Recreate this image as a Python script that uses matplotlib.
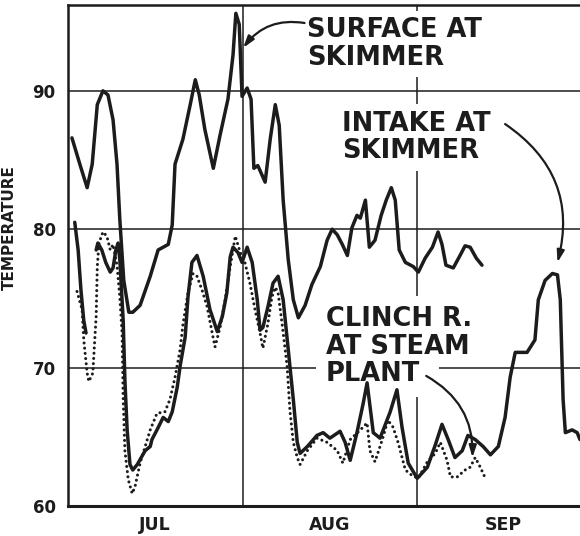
import numpy as np
import matplotlib
matplotlib.use("Agg")
import matplotlib.pyplot as plt

# Water temperature, summer record. Day 0 = July 1.

# surface at skimmer (upper solid trace)
surface_day = [0.7, 2.1, 3.4, 4.3, 5.2, 6.2, 7.1, 8.0, 8.7, 9.2, 9.9, 10.8, 11.5,
               12.8, 14.6, 16.0, 16.9, 17.8, 18.5, 19.0, 20.4, 21.7, 22.6, 23.3,
               24.3, 25.8, 27.0, 28.4, 29.3, 29.8, 30.4, 30.9, 31.8, 32.5, 33.0,
               33.7, 35.0, 35.9, 36.8, 37.5, 38.2, 39.1, 40.0, 40.9, 42.1, 43.3,
               44.8, 46.0, 46.9, 47.8, 48.7, 49.6, 50.4, 51.3, 51.9, 52.8, 53.5,
               54.5, 55.6, 56.5, 57.4, 58.1, 58.8, 59.9, 61.3, 62.2, 63.4, 64.7,
               65.7, 66.4, 67.1, 68.4, 69.6, 70.5, 71.4, 72.5, 73.5]
surface_temp = [86.6, 84.7, 83.0, 84.7, 89.0, 90.0, 89.7, 87.9, 84.7, 80.7, 76.3,
                74.0, 74.0, 74.5, 76.6, 78.5, 78.7, 78.9, 80.3, 84.7, 86.5, 89.0,
                90.8, 89.7, 87.2, 84.4, 86.8, 89.4, 92.6, 95.6, 94.8, 89.6, 90.2,
                89.4, 84.4, 84.6, 83.4, 86.5, 89.0, 87.5, 82.1, 77.8, 74.9, 73.6,
                74.5, 76.0, 77.3, 79.2, 80.0, 79.6, 78.9, 78.1, 80.1, 81.0, 80.8,
                82.1, 78.7, 79.2, 81.0, 82.1, 83.0, 82.1, 78.5, 77.6, 77.3, 76.9,
                77.9, 78.7, 79.8, 78.9, 77.4, 77.2, 78.1, 78.8, 78.7, 77.9, 77.4]

# intake at skimmer (lower solid trace, a short break early in July)
intake_day = [1.2, 1.8, 2.3, 2.8, 3.2, 4.0, 5.0, 5.3, 6.0, 6.7, 7.5, 8.0, 8.5, 8.9,
              9.2, 9.8, 10.1, 10.5, 11.0, 11.5, 12.3, 13.0, 13.7, 14.6, 14.9, 15.8,
              16.9, 17.8, 18.5, 19.4, 19.9, 20.8, 21.3, 22.0, 22.9, 24.0, 25.2,
              26.5, 27.4, 28.2, 28.8, 29.3, 30.2, 30.9, 31.8, 32.7, 33.6, 34.1,
              34.6, 35.5, 36.4, 37.3, 38.2, 39.1, 40.0, 40.7, 41.2, 42.5, 44.2,
              45.3, 46.5, 48.3, 49.2, 50.1, 51.3, 52.4, 53.1, 54.2, 55.4, 57.2,
              58.4, 59.3, 60.4, 62.0, 63.8, 65.2, 66.4, 67.5, 68.7, 70.0, 71.0,
              72.3, 73.7, 75.0, 76.4, 77.6, 78.5, 79.4, 81.5, 82.9, 83.5, 84.7,
              86.0, 86.9, 87.4, 87.9, 88.3, 89.5, 90.4, 90.9]
intake_temp = [80.5, 78.5, 75.6, 73.4, 72.5, np.nan, 78.5, 79.0, 78.5, 77.6, 76.9,
               77.2, 78.5, 79.0, 77.8, 73.4, 69.1, 65.5, 63.0, 62.6, 63.0, 63.5,
               64.0, 64.3, 64.8, 65.5, 66.4, 66.1, 66.8, 68.6, 70.1, 72.2, 75.1,
               77.6, 78.1, 76.6, 74.2, 72.6, 73.7, 75.4, 78.0, 78.7, 78.3, 77.6,
               78.7, 77.6, 74.9, 72.7, 72.9, 74.4, 76.1, 76.6, 74.9, 71.3, 67.7,
               64.6, 63.8, 64.3, 65.1, 65.3, 64.9, 65.4, 64.6, 63.3, 65.3, 67.4,
               68.9, 65.3, 64.9, 66.8, 68.4, 65.7, 63.1, 62.0, 62.8, 64.4, 65.9,
               64.8, 63.5, 64.0, 65.1, 64.8, 64.3, 63.7, 64.3, 66.4, 69.3, 71.1,
               71.1, 72.0, 74.9, 76.3, 76.8, 76.7, 74.9, 67.7, 65.3, 65.5, 65.3,
               64.8]

# Clinch R. at steam plant (dotted trace)
clinch_day = [1.6, 2.5, 2.8, 3.4, 3.7, 4.4, 5.0, 5.2, 5.5, 6.2, 6.9, 7.5, 8.0, 8.7,
              9.2, 9.6, 9.8, 10.1, 10.7, 11.4, 11.9, 12.8, 13.7, 14.6, 15.8, 17.2,
              18.1, 19.0, 19.9, 20.4, 21.3, 22.2, 22.9, 23.8, 24.7, 25.6, 26.1,
              27.0, 27.9, 28.8, 29.7, 30.6, 31.4, 32.3, 33.2, 34.1, 34.6, 35.5,
              36.2, 36.8, 37.3, 38.0, 38.9, 39.4, 40.0, 40.7, 41.2, 42.5, 44.2,
              46.0, 47.8, 48.8, 50.1, 51.9, 53.1, 53.6, 54.5, 55.8, 56.8, 57.7,
              58.6, 59.9, 61.1, 62.2, 63.8, 65.2, 66.1, 67.3, 67.9, 69.1, 70.5,
              71.4, 72.3, 73.2, 74.1]
clinch_temp = [75.5, 74.2, 72.0, 69.6, 69.0, 69.6, 73.7, 77.3, 79.0, 79.8, 79.5,
               78.5, 78.9, 77.4, 75.1, 72.5, 67.7, 64.0, 61.9, 60.9, 61.4, 63.1,
               64.3, 65.5, 66.7, 66.8, 67.7, 69.3, 71.3, 73.1, 75.4, 76.8, 76.6,
               75.6, 74.4, 72.5, 71.5, 72.9, 74.9, 77.3, 79.5, 78.3, 77.6, 76.1,
               74.2, 72.5, 71.4, 73.2, 75.1, 75.8, 75.4, 73.2, 70.1, 66.9, 64.6,
               63.5, 63.0, 64.0, 64.9, 64.6, 64.0, 63.1, 64.8, 65.5, 66.0, 64.0,
               63.2, 64.8, 66.2, 65.7, 64.6, 62.6, 62.2, 62.0, 63.2, 63.8, 64.6,
               63.3, 62.1, 62.1, 62.6, 62.8, 63.5, 62.8, 62.0]

month_edges = [31, 62]
month_mid = [15.5, 46.5, 77.3]
month_labels = ["JUL", "AUG", "SEP"]
temp_ticks = [60, 70, 80, 90]

ink = "#1c1c1c"

fig = plt.figure(figsize=(5.8, 5.36), dpi=100)
ax = fig.add_axes([68/580, 30/536, 512/580, 501/536])
ax.set_axisbelow(True)

ax.plot(surface_day, surface_temp, color=ink, lw=2.5,
        solid_joinstyle="round", solid_capstyle="round", zorder=2)
ax.plot(intake_day, intake_temp, color=ink, lw=2.5,
        solid_joinstyle="round", solid_capstyle="round", zorder=2)
ax.plot(clinch_day, clinch_temp, color=ink, lw=2.2,
        linestyle=(0, (0.01, 1.7)), dash_capstyle="round", zorder=2)

ax.set_xlim(0, 90.9)
ax.set_ylim(60, 96.2)

ax.set_yticks(temp_ticks)
ax.set_xticks(month_mid, month_labels)
ax.set_xticks(month_edges, minor=True)
ax.grid(axis="y", color=ink, lw=1.1)
ax.grid(axis="x", which="minor", color=ink, lw=1.1)
ax.tick_params(which="both", length=0)
ax.tick_params(axis="y", pad=9, labelsize=12)
ax.tick_params(axis="x", pad=7, labelsize=12.5)
for lab in ax.get_xticklabels() + ax.get_yticklabels():
    lab.set_fontweight("bold")
    lab.set_color(ink)

ax.spines["right"].set_visible(False)
ax.spines["left"].set_linewidth(1.8)
ax.spines["top"].set_linewidth(1.8)
ax.spines["bottom"].set_linewidth(2.2)
for s in ax.spines.values():
    s.set_color(ink)

ax.set_ylabel("TEMPERATURE", fontsize=11, fontweight="bold", color=ink)
ax.yaxis.set_label_coords(-0.1, 0.555)

# labels, a white box breaks the grid lines behind them
box = dict(facecolor="white", edgecolor="none", boxstyle="square,pad=0.25")
txt = dict(fontsize=18.5, fontweight="bold", color=ink, ha="left", va="top",
           linespacing=1.08, zorder=1)
ax.text(42.5, 95.3, "SURFACE AT\nSKIMMER", bbox=box, **txt)
ax.text(48.7, 88.55, "INTAKE AT\nSKIMMER", bbox=box, **txt)

# clinch label: blank boxes first (narrow one for the last row), then the words
clinch_x, clinch_y = 45.8, 74.45
ax.text(clinch_x, clinch_y, "CLINCH R.\nAT STEAM", bbox=box,
        **dict(txt, color="none", zorder=0.9))
ax.text(clinch_x, clinch_y, "\n\nPLANT ", bbox=dict(box, boxstyle="square,pad=0.4"),
        **dict(txt, color="none", zorder=0.9))
ax.text(clinch_x, clinch_y, "CLINCH R.\nAT STEAM\nPLANT", **txt)

arrow = dict(arrowstyle="-|>,head_length=0.7,head_width=0.22", color=ink,
             lw=1.6, shrinkA=0, shrinkB=0)
ax.annotate("", xy=(31.1, 93.1), xytext=(42.0, 94.9),
            arrowprops=dict(arrow, connectionstyle="arc3,rad=0.3"))
ax.annotate("", xy=(86.9, 77.6), xytext=(77.6, 87.6),
            arrowprops=dict(arrow, connectionstyle="arc3,rad=-0.35"))
ax.annotate("", xy=(71.8, 63.5), xytext=(63.6, 69.4),
            arrowprops=dict(arrow, connectionstyle="arc3,rad=-0.3"))

fig.savefig("out.png", dpi=100, facecolor="white")
